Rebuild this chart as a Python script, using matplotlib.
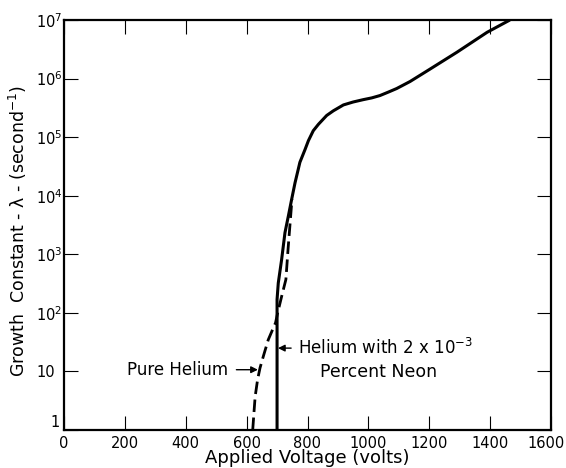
import matplotlib
matplotlib.use("Agg")
import matplotlib.pyplot as plt
import matplotlib.transforms as mtransforms
import numpy as np

# growth constant vs applied voltage, log10 of lambda read per point
neon_volts = [700, 700, 700, 704, 715, 726, 737, 748, 759, 770, 775, 792, 803, 819,
              836, 863, 885, 918, 950, 983, 1011, 1038, 1066, 1093, 1115, 1137,
              1202, 1291, 1390, 1465]
neon_log = [0.0, 1.0, 2.23, 2.51, 2.91, 3.37, 3.65, 3.94, 4.22, 4.46, 4.57, 4.79,
            4.94, 5.11, 5.22, 5.37, 5.45, 5.55, 5.60, 5.64, 5.67, 5.71, 5.77, 5.83,
            5.89, 5.95, 6.16, 6.45, 6.79, 7.0]

helium_volts = [620, 624, 628, 636, 644, 655, 671, 685, 695, 702, 715, 729, 736, 749]
helium_log = [0.0, 0.29, 0.57, 0.86, 1.06, 1.26, 1.54, 1.71, 1.83, 2.0, 2.28, 2.57,
              3.08, 3.94]

x_ticks = [0, 200, 400, 600, 800, 1000, 1200, 1400, 1600]
y_ticks = [1, 10, 1e2, 1e3, 1e4, 1e5, 1e6, 1e7]
y_labels = ["", "10", "10$^2$", "10$^3$", "10$^4$", "10$^5$", "10$^6$", "10$^7$"]

plt.rcParams['font.family'] = ['DejaVu Sans']

fig = plt.figure(figsize=(5.66, 4.68), dpi=100)
ax = fig.add_axes([64 / 566, 38 / 468, 487 / 566, 410 / 468])

ax.plot(neon_volts, 10 ** np.array(neon_log), color='k', lw=2.2,
        solid_capstyle='butt', solid_joinstyle='round')
ax.plot(helium_volts, 10 ** np.array(helium_log), color='k', lw=2.0,
        dashes=(4.5, 2.0))

ax.set_yscale('log')
ax.set_xlim(0, 1600)
ax.set_ylim(1, 1e7)

ax.set_xticks(x_ticks)
ax.set_xticklabels([str(v) for v in x_ticks], fontsize=10.5)
ax.set_yticks(y_ticks)
ax.set_yticklabels(y_labels, fontsize=10.5, ha='left')
ax.yaxis.set_minor_locator(matplotlib.ticker.NullLocator())
ax.tick_params(direction='in', length=10, width=0.8, top=True, right=True)
ax.tick_params(axis='x', pad=4)
ax.tick_params(axis='y', pad=20)
ax.text(-0.027, 1.0, "1", transform=ax.get_yaxis_transform(),
        ha='left', va='bottom', fontsize=10.5)

# keep the last x label inside the figure edge
last = ax.get_xticklabels()[-1]
last.set_transform(last.get_transform() +
                   mtransforms.ScaledTranslation(-5 / 100, 0, fig.dpi_scale_trans))

for s in ax.spines.values():
    s.set_linewidth(1.6)

ax.set_xlabel("Applied Voltage (volts)", fontsize=13, va='bottom')
ax.xaxis.set_label_coords(0.5, -0.0905)
ax.set_ylabel("Growth  Constant - λ - (second$^{-1}$)", fontsize=12.5)
ax.yaxis.set_label_coords(-0.072, 0.485)

ax.annotate("Pure Helium", xy=(637, 10.7), xytext=(539, 10.7),
            ha='right', va='center', fontsize=12,
            arrowprops=dict(arrowstyle='-|>', color='k', lw=1.0,
                            mutation_scale=10, shrinkA=4, shrinkB=0))
ax.annotate("Helium with 2 x 10$^{-3}$", xy=(703, 25), xytext=(769, 25),
            ha='left', va='center', fontsize=12,
            arrowprops=dict(arrowstyle='-|>', color='k', lw=1.0,
                            mutation_scale=10, shrinkA=3, shrinkB=0))
ax.text(1035, 9.8, "Percent Neon", ha='center', va='center', fontsize=12.5)

fig.savefig("out.png", dpi=100)
